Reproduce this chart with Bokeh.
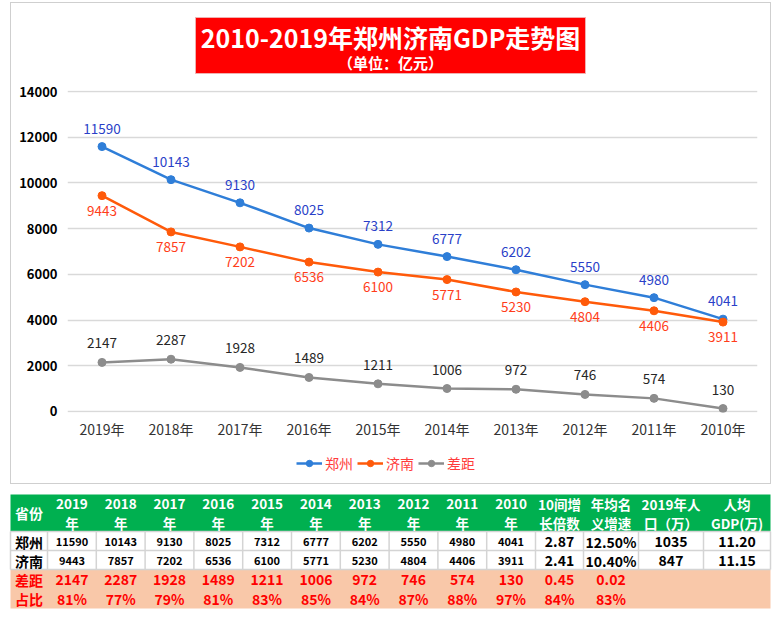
from bokeh.plotting import figure
from bokeh.models import Range1d, FixedTicker, Legend, LegendItem
from bokeh.layouts import column
from bokeh.core.properties import value
from bokeh.embed import file_html
from bokeh.resources import INLINE

# ---------------- data ----------------
years = ["2019年", "2018年", "2017年", "2016年", "2015年",
         "2014年", "2013年", "2012年", "2011年", "2010年"]
zhengzhou = [11590, 10143, 9130, 8025, 7312, 6777, 6202, 5550, 4980, 4041]
jinan = [9443, 7857, 7202, 6536, 6100, 5771, 5230, 4804, 4406, 3911]
gap = [2147, 2287, 1928, 1489, 1211, 1006, 972, 746, 574, 130]
y_ticks = [0, 2000, 4000, 6000, 8000, 10000, 12000, 14000]
series_names = ["郑州", "济南", "差距"]
ratio = ["81%", "77%", "79%", "81%", "83%", "85%", "84%", "87%", "88%", "97%"]
multiple = ["2.87", "2.41", "0.45", "84%"]
growth = ["12.50%", "10.40%", "0.02", "83%"]
population = ["1035", "847", "", ""]
per_capita = ["11.20", "11.15", "", ""]
row_names = ["郑州", "济南", "差距", "占比"]
head_first = "省份"
head_line1 = [y[:-1] for y in years] + ["10间增", "年均名", "2019年人", "人均"]
head_line2 = ["年"] * 10 + ["长倍数", "义增速", "口（万）", "GDP(万)"]
title_text = "2010-2019年郑州济南GDP走势图"
subtitle_text = "（单位：亿元）"

FONT = "Noto Sans CJK SC"
BLUE = "#2f7ed8"
BLUE_LBL = "#2a3fc8"
ORANGE = "#ff5a0a"
ORANGE_LBL = "#ff3d1a"
GRAY = "#8c8c8c"
GRAY_LBL = "#262626"
RED = "#ff0000"
COLORS = [BLUE, ORANGE, GRAY]

def blank(fig):
    fig.grid.visible = False
    fig.outline_line_color = None

# layout (page pixels): chart box inner x 11..770, y 3..483
BL, BR = 56, 13          # chart frame borders -> frame spans page x 67..757

# ---------------- title figure ----------------
A = figure(width=759, height=72, x_range=Range1d(67, 757), y_range=Range1d(75, 3),
           x_axis_location=None, y_axis_location=None,
           min_border_left=BL, min_border_right=BR, min_border_top=0, min_border_bottom=0,
           toolbar_location=None, output_backend="svg")
blank(A)
A.quad(left=[195], right=[585], top=[17], bottom=[73], fill_color=RED, line_color="#f0b0b0")
A.text(x=[390], y=[36], text=[title_text], text_font=value(FONT), text_font_size="25px",
       text_font_style="bold", text_color="white", text_align="center", text_baseline="middle")
A.text(x=[390], y=[62], text=[subtitle_text], text_font=value(FONT), text_font_size="15px",
       text_font_style="bold", text_color="white", text_align="center", text_baseline="middle")

# ---------------- chart figure ----------------
B = figure(width=759, height=371, x_range=years, y_range=Range1d(-44, 14044),
           min_border_left=BL, min_border_right=BR, min_border_top=15, min_border_bottom=34,
           toolbar_location=None, output_backend="svg")
B.outline_line_color = None
B.xgrid.visible = False
B.ygrid.grid_line_color = "#d9d9d9"
B.ygrid.grid_line_width = 1.5
B.yaxis.ticker = FixedTicker(ticks=y_ticks)
B.yaxis.axis_line_color = None
B.yaxis.major_tick_line_color = None
B.yaxis.minor_tick_line_color = None
B.yaxis.major_tick_out = 0
B.yaxis.major_label_standoff = 10
B.yaxis.major_label_text_font = FONT
B.yaxis.major_label_text_font_size = "13px"
B.yaxis.major_label_text_font_style = "bold"
B.yaxis.major_label_text_color = "#000000"
B.xaxis.axis_line_color = None
B.xaxis.major_tick_line_color = None
B.xaxis.major_tick_out = 0
B.xaxis.major_label_standoff = 6
B.xaxis.major_label_text_font = FONT
B.xaxis.major_label_text_font_size = "14px"
B.xaxis.major_label_text_color = "#333333"

for vals, col, lcol, off in [
    (zhengzhou, BLUE, BLUE_LBL, -18),
    (jinan, ORANGE, ORANGE_LBL, 15),
    (gap, GRAY, GRAY_LBL, -19),
]:
    B.line(years, vals, line_color=col, line_width=2.5)
    B.scatter(years, vals, size=8, fill_color=col, line_color=col)
    B.text(x=years, y=vals, text=[str(v) for v in vals], y_offset=off,
           text_font=value(FONT), text_font_size="13.5px", text_color=lcol,
           text_align="center", text_baseline="middle")

# ---------------- legend strip ----------------
L = figure(width=759, height=37, x_range=Range1d(0, 1), y_range=Range1d(0, 1),
           x_axis_location=None, y_axis_location=None,
           min_border_left=BL, min_border_right=BR, min_border_top=0, min_border_bottom=0,
           toolbar_location=None, output_backend="svg")
blank(L)
items = []
for name, col in zip(series_names, COLORS):
    # legend-only proxies, kept outside the visible range
    rl = L.line(x=[-5, -4], y=[-5, -5], line_color=col, line_width=2.5)
    rs = L.scatter(x=[-5], y=[-5], size=8, fill_color=col, line_color=col)
    items.append(LegendItem(label=name, renderers=[rl, rs]))
legend = Legend(items=items, orientation="horizontal", location=(229, 10),
                label_text_font=FONT, label_text_font_size="14px", label_text_color="#ff3b3b",
                glyph_width=26, glyph_height=16, label_standoff=3, spacing=4,
                padding=6, margin=0, background_fill_alpha=0, border_line_color=None)
L.add_layout(legend, "center")

# ---------------- table figure ----------------
C = figure(width=778, height=132, x_range=Range1d(0, 778), y_range=Range1d(616, 484),
           x_axis_location=None, y_axis_location=None, min_border=0,
           toolbar_location=None, output_backend="svg")
blank(C)
edges = [10, 47] + [47 + 48.8 * (i + 1) for i in range(10)] + [583, 638, 703, 770]
centers = [(edges[i] + edges[i + 1]) / 2 for i in range(len(edges) - 1)]
tl, tr = edges[0], edges[-1]
C.quad(left=[tl], right=[tr], top=[494], bottom=[531], fill_color="#00b050", line_color=None)
C.quad(left=[tl], right=[tr], top=[531], bottom=[569], fill_color="white", line_color=None)
C.quad(left=[tl], right=[tr], top=[569], bottom=[608], fill_color="#f9c8a9", line_color=None)
C.segment(x0=edges, y0=[531] * len(edges), x1=edges, y1=[569] * len(edges),
          line_color="#d4d4d4", line_width=1.5)
C.segment(x0=[tl] * 3, y0=[531, 550, 569], x1=[tr] * 3, y1=[531, 550, 569],
          line_color="#d4d4d4", line_width=1.5)

def txt(xs, ys, ts, size, color, bold=True):
    C.text(x=xs, y=ys, text=ts, text_font=value(FONT), text_font_size=size,
           text_font_style="bold" if bold else "normal", text_color=color,
           text_align="center", text_baseline="middle")

# header
txt([centers[0]], [512], [head_first], "14px", "white")
txt(centers[1:], [503] * 14, head_line1, "13.5px", "white")
txt(centers[1:], [522] * 14, head_line2, "13.5px", "white")
# row labels
row_y = [541, 560, 579, 598]
txt([centers[0]] * 2, row_y[:2], row_names[:2], "14px", "#000000")
txt([centers[0]] * 2, row_y[2:], row_names[2:], "14px", RED)
# year values
txt(centers[1:11], [row_y[0]] * 10, [str(v) for v in zhengzhou], "11px", "#000000")
txt(centers[1:11], [row_y[1]] * 10, [str(v) for v in jinan], "11px", "#000000")
txt(centers[1:11], [row_y[2]] * 10, [str(v) for v in gap], "14px", RED)
txt(centers[1:11], [row_y[3]] * 10, ratio, "14px", RED)
# stats columns
for ci, colvals in zip([11, 12, 13, 14], [multiple, growth, population, per_capita]):
    txt([centers[ci]] * 2, row_y[:2], colvals[:2], "14px", "#000000")
    txt([centers[ci]] * 2, row_y[2:], colvals[2:], "14px", RED)

top = column(A, B, L, styles={"border": "1px solid #cfcfcf", "margin-left": "10px",
                              "margin-top": "2px"})
page = column(top, C)
open("out.html", "w").write(file_html(page, INLINE))
